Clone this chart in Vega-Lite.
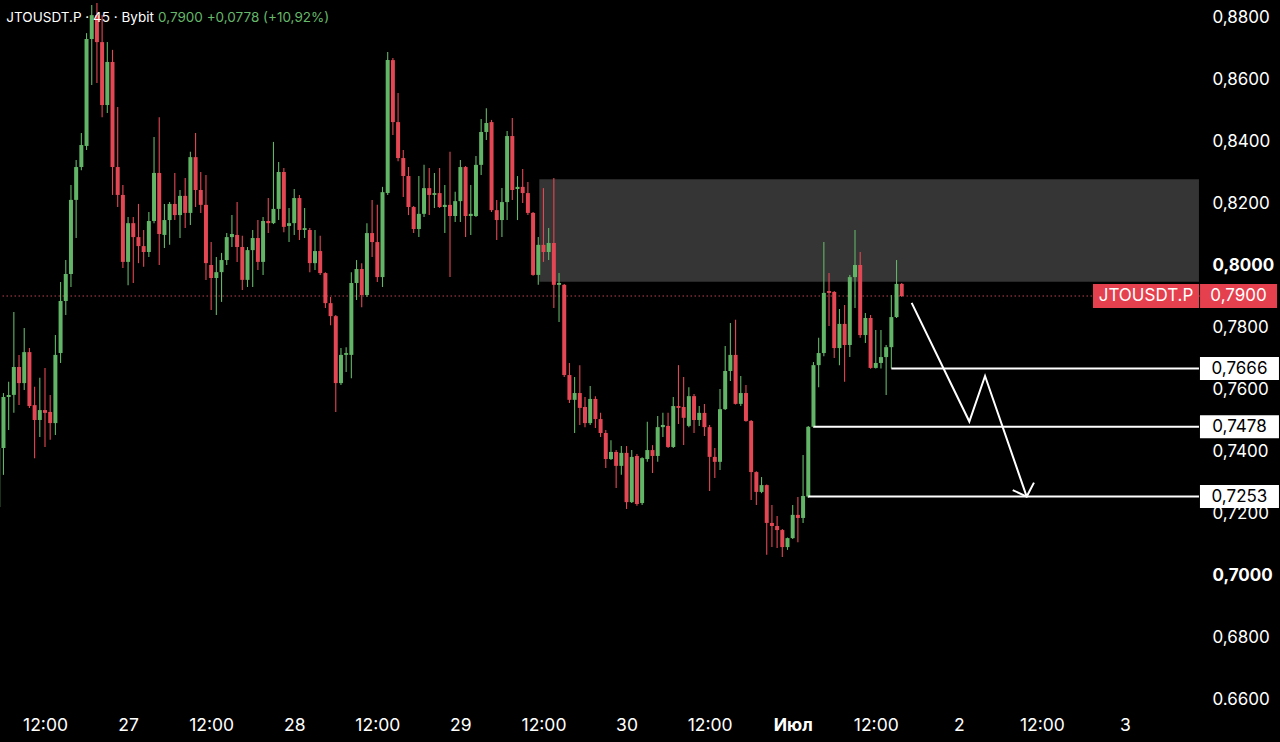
{
  "$schema": "https://vega.github.io/schema/vega-lite/v6.json",
  "width": 1200,
  "height": 710,
  "autosize": {"type": "none"},
  "padding": {"left": 0, "top": 0, "right": 80, "bottom": 32},
  "background": "#000000",
  "config": {"view": {"stroke": null}, "font": "Inter"},
  "datasets": {
    "candles": [
      {"t":"2024-06-26T05:15Z","o":0.7219,"h":0.7419,"l":0.7210,"c":0.7410},
      {"t":"2024-06-26T06:00Z","o":0.7410,"h":0.7587,"l":0.7323,"c":0.7574},
      {"t":"2024-06-26T06:45Z","o":0.7574,"h":0.7623,"l":0.7468,"c":0.7581},
      {"t":"2024-06-26T07:30Z","o":0.7581,"h":0.7848,"l":0.7523,"c":0.7671},
      {"t":"2024-06-26T08:15Z","o":0.7671,"h":0.7710,"l":0.7548,"c":0.7619},
      {"t":"2024-06-26T09:00Z","o":0.7619,"h":0.7797,"l":0.7597,"c":0.7719},
      {"t":"2024-06-26T09:45Z","o":0.7719,"h":0.7732,"l":0.7539,"c":0.7545},
      {"t":"2024-06-26T10:30Z","o":0.7548,"h":0.7607,"l":0.7377,"c":0.7500},
      {"t":"2024-06-26T11:15Z","o":0.7500,"h":0.7636,"l":0.7445,"c":0.7532},
      {"t":"2024-06-26T12:00Z","o":0.7532,"h":0.7668,"l":0.7413,"c":0.7523},
      {"t":"2024-06-26T12:45Z","o":0.7526,"h":0.7581,"l":0.7436,"c":0.7490},
      {"t":"2024-06-26T13:30Z","o":0.7490,"h":0.7774,"l":0.7452,"c":0.7710},
      {"t":"2024-06-26T14:15Z","o":0.7716,"h":0.7945,"l":0.7684,"c":0.7884},
      {"t":"2024-06-26T15:00Z","o":0.7884,"h":0.8016,"l":0.7839,"c":0.7971},
      {"t":"2024-06-26T15:45Z","o":0.7971,"h":0.8258,"l":0.7929,"c":0.8210},
      {"t":"2024-06-26T16:30Z","o":0.8210,"h":0.8339,"l":0.8087,"c":0.8316},
      {"t":"2024-06-26T17:15Z","o":0.8316,"h":0.8426,"l":0.8306,"c":0.8387},
      {"t":"2024-06-26T18:00Z","o":0.8384,"h":0.8748,"l":0.8371,"c":0.8729},
      {"t":"2024-06-26T18:45Z","o":0.8729,"h":0.8839,"l":0.8581,"c":0.8806},
      {"t":"2024-06-26T19:30Z","o":0.8806,"h":0.8845,"l":0.8587,"c":0.8719},
      {"t":"2024-06-26T20:15Z","o":0.8719,"h":0.8806,"l":0.8477,"c":0.8516},
      {"t":"2024-06-26T21:00Z","o":0.8516,"h":0.8719,"l":0.8490,"c":0.8655},
      {"t":"2024-06-26T21:45Z","o":0.8655,"h":0.8694,"l":0.8226,"c":0.8316},
      {"t":"2024-06-26T22:30Z","o":0.8316,"h":0.8510,"l":0.8187,"c":0.8226},
      {"t":"2024-06-26T23:15Z","o":0.8226,"h":0.8258,"l":0.7990,"c":0.8010},
      {"t":"2024-06-27T00:00Z","o":0.8010,"h":0.8155,"l":0.7935,"c":0.8135},
      {"t":"2024-06-27T00:45Z","o":0.8135,"h":0.8155,"l":0.7942,"c":0.8090},
      {"t":"2024-06-27T01:30Z","o":0.8090,"h":0.8197,"l":0.8006,"c":0.8061},
      {"t":"2024-06-27T02:15Z","o":0.8061,"h":0.8113,"l":0.7994,"c":0.8042},
      {"t":"2024-06-27T03:00Z","o":0.8042,"h":0.8171,"l":0.8026,"c":0.8142},
      {"t":"2024-06-27T03:45Z","o":0.8142,"h":0.8413,"l":0.8135,"c":0.8297},
      {"t":"2024-06-27T04:30Z","o":0.8297,"h":0.8477,"l":0.8000,"c":0.8100},
      {"t":"2024-06-27T05:15Z","o":0.8097,"h":0.8197,"l":0.8055,"c":0.8145},
      {"t":"2024-06-27T06:00Z","o":0.8145,"h":0.8203,"l":0.8065,"c":0.8197},
      {"t":"2024-06-27T06:45Z","o":0.8197,"h":0.8297,"l":0.8145,"c":0.8161},
      {"t":"2024-06-27T07:30Z","o":0.8161,"h":0.8242,"l":0.8087,"c":0.8223},
      {"t":"2024-06-27T08:15Z","o":0.8223,"h":0.8281,"l":0.8119,"c":0.8168},
      {"t":"2024-06-27T09:00Z","o":0.8168,"h":0.8365,"l":0.8129,"c":0.8348},
      {"t":"2024-06-27T09:45Z","o":0.8348,"h":0.8426,"l":0.8187,"c":0.8242},
      {"t":"2024-06-27T10:30Z","o":0.8242,"h":0.8300,"l":0.8168,"c":0.8194},
      {"t":"2024-06-27T11:15Z","o":0.8194,"h":0.8290,"l":0.7952,"c":0.8006},
      {"t":"2024-06-27T12:00Z","o":0.8000,"h":0.8074,"l":0.7855,"c":0.7958},
      {"t":"2024-06-27T12:45Z","o":0.7958,"h":0.8026,"l":0.7839,"c":0.7977},
      {"t":"2024-06-27T13:30Z","o":0.7977,"h":0.8039,"l":0.7881,"c":0.8016},
      {"t":"2024-06-27T14:15Z","o":0.8016,"h":0.8103,"l":0.8000,"c":0.8090},
      {"t":"2024-06-27T15:00Z","o":0.8090,"h":0.8161,"l":0.8058,"c":0.8100},
      {"t":"2024-06-27T15:45Z","o":0.8097,"h":0.8203,"l":0.8010,"c":0.8058},
      {"t":"2024-06-27T16:30Z","o":0.8058,"h":0.8094,"l":0.7919,"c":0.7952},
      {"t":"2024-06-27T17:15Z","o":0.7952,"h":0.8058,"l":0.7929,"c":0.8048},
      {"t":"2024-06-27T18:00Z","o":0.8048,"h":0.8113,"l":0.7929,"c":0.8087},
      {"t":"2024-06-27T18:45Z","o":0.8087,"h":0.8145,"l":0.7984,"c":0.8010},
      {"t":"2024-06-27T19:30Z","o":0.8010,"h":0.8155,"l":0.7968,"c":0.8142},
      {"t":"2024-06-27T20:15Z","o":0.8142,"h":0.8216,"l":0.8103,"c":0.8135},
      {"t":"2024-06-27T21:00Z","o":0.8135,"h":0.8397,"l":0.8132,"c":0.8181},
      {"t":"2024-06-27T21:45Z","o":0.8181,"h":0.8332,"l":0.8145,"c":0.8300},
      {"t":"2024-06-27T22:30Z","o":0.8300,"h":0.8313,"l":0.8106,"c":0.8123},
      {"t":"2024-06-27T23:15Z","o":0.8126,"h":0.8184,"l":0.8074,"c":0.8135},
      {"t":"2024-06-28T00:00Z","o":0.8135,"h":0.8245,"l":0.8097,"c":0.8216},
      {"t":"2024-06-28T00:45Z","o":0.8216,"h":0.8226,"l":0.8081,"c":0.8113},
      {"t":"2024-06-28T01:30Z","o":0.8113,"h":0.8184,"l":0.8087,"c":0.8119},
      {"t":"2024-06-28T02:15Z","o":0.8113,"h":0.8119,"l":0.7977,"c":0.8006},
      {"t":"2024-06-28T03:00Z","o":0.8006,"h":0.8113,"l":0.7984,"c":0.8045},
      {"t":"2024-06-28T03:45Z","o":0.8045,"h":0.8094,"l":0.7968,"c":0.7974},
      {"t":"2024-06-28T04:30Z","o":0.7974,"h":0.7977,"l":0.7861,"c":0.7877},
      {"t":"2024-06-28T05:15Z","o":0.7877,"h":0.7897,"l":0.7806,"c":0.7835},
      {"t":"2024-06-28T06:00Z","o":0.7835,"h":0.7839,"l":0.7526,"c":0.7619},
      {"t":"2024-06-28T06:45Z","o":0.7619,"h":0.7732,"l":0.7613,"c":0.7710},
      {"t":"2024-06-28T07:30Z","o":0.7710,"h":0.7735,"l":0.7655,"c":0.7716},
      {"t":"2024-06-28T08:15Z","o":0.7710,"h":0.7977,"l":0.7635,"c":0.7942},
      {"t":"2024-06-28T09:00Z","o":0.7942,"h":0.8016,"l":0.7887,"c":0.7987},
      {"t":"2024-06-28T09:45Z","o":0.7987,"h":0.8006,"l":0.7864,"c":0.7903},
      {"t":"2024-06-28T10:30Z","o":0.7903,"h":0.8135,"l":0.7897,"c":0.8103},
      {"t":"2024-06-28T11:15Z","o":0.8103,"h":0.8210,"l":0.8026,"c":0.8074},
      {"t":"2024-06-28T12:00Z","o":0.8074,"h":0.8194,"l":0.7945,"c":0.7961},
      {"t":"2024-06-28T12:45Z","o":0.7961,"h":0.8252,"l":0.7929,"c":0.8235},
      {"t":"2024-06-28T13:30Z","o":0.8232,"h":0.8687,"l":0.8226,"c":0.8661},
      {"t":"2024-06-28T14:15Z","o":0.8661,"h":0.8668,"l":0.8419,"c":0.8461},
      {"t":"2024-06-28T15:00Z","o":0.8461,"h":0.8555,"l":0.8335,"c":0.8345},
      {"t":"2024-06-28T15:45Z","o":0.8345,"h":0.8371,"l":0.8219,"c":0.8287},
      {"t":"2024-06-28T16:30Z","o":0.8287,"h":0.8316,"l":0.8161,"c":0.8187},
      {"t":"2024-06-28T17:15Z","o":0.8187,"h":0.8190,"l":0.8103,"c":0.8116},
      {"t":"2024-06-28T18:00Z","o":0.8116,"h":0.8287,"l":0.8090,"c":0.8165},
      {"t":"2024-06-28T18:45Z","o":0.8165,"h":0.8323,"l":0.8155,"c":0.8248},
      {"t":"2024-06-28T19:30Z","o":0.8248,"h":0.8313,"l":0.8161,"c":0.8226},
      {"t":"2024-06-28T20:15Z","o":0.8226,"h":0.8297,"l":0.8184,"c":0.8232},
      {"t":"2024-06-28T21:00Z","o":0.8232,"h":0.8313,"l":0.8184,"c":0.8187},
      {"t":"2024-06-28T21:45Z","o":0.8187,"h":0.8258,"l":0.8103,"c":0.8194},
      {"t":"2024-06-28T22:30Z","o":0.8194,"h":0.8365,"l":0.7961,"c":0.8158},
      {"t":"2024-06-28T23:15Z","o":0.8158,"h":0.8236,"l":0.8139,"c":0.8206},
      {"t":"2024-06-29T00:00Z","o":0.8206,"h":0.8339,"l":0.8139,"c":0.8316},
      {"t":"2024-06-29T00:45Z","o":0.8316,"h":0.8319,"l":0.8090,"c":0.8158},
      {"t":"2024-06-29T01:30Z","o":0.8158,"h":0.8258,"l":0.8097,"c":0.8165},
      {"t":"2024-06-29T02:15Z","o":0.8158,"h":0.8352,"l":0.8155,"c":0.8323},
      {"t":"2024-06-29T03:00Z","o":0.8323,"h":0.8471,"l":0.8290,"c":0.8429},
      {"t":"2024-06-29T03:45Z","o":0.8429,"h":0.8506,"l":0.8403,"c":0.8458},
      {"t":"2024-06-29T04:30Z","o":0.8461,"h":0.8468,"l":0.8171,"c":0.8177},
      {"t":"2024-06-29T05:15Z","o":0.8177,"h":0.8210,"l":0.8081,"c":0.8145},
      {"t":"2024-06-29T06:00Z","o":0.8145,"h":0.8248,"l":0.8090,"c":0.8203},
      {"t":"2024-06-29T06:45Z","o":0.8203,"h":0.8432,"l":0.8145,"c":0.8416},
      {"t":"2024-06-29T07:30Z","o":0.8416,"h":0.8474,"l":0.8210,"c":0.8242},
      {"t":"2024-06-29T08:15Z","o":0.8245,"h":0.8287,"l":0.8145,"c":0.8252},
      {"t":"2024-06-29T09:00Z","o":0.8252,"h":0.8310,"l":0.8200,"c":0.8232},
      {"t":"2024-06-29T09:45Z","o":0.8232,"h":0.8268,"l":0.8161,"c":0.8168},
      {"t":"2024-06-29T10:30Z","o":0.8168,"h":0.8171,"l":0.7965,"c":0.7968},
      {"t":"2024-06-29T11:15Z","o":0.7968,"h":0.8090,"l":0.7936,"c":0.8065},
      {"t":"2024-06-29T12:00Z","o":0.8065,"h":0.8248,"l":0.8010,"c":0.8042},
      {"t":"2024-06-29T12:45Z","o":0.8042,"h":0.8119,"l":0.8016,"c":0.8071},
      {"t":"2024-06-29T13:30Z","o":0.8071,"h":0.8281,"l":0.7861,"c":0.7936},
      {"t":"2024-06-29T14:15Z","o":0.7936,"h":0.7974,"l":0.7816,"c":0.7942},
      {"t":"2024-06-29T15:00Z","o":0.7936,"h":0.7939,"l":0.7639,"c":0.7645},
      {"t":"2024-06-29T15:45Z","o":0.7645,"h":0.7684,"l":0.7555,"c":0.7565},
      {"t":"2024-06-29T16:30Z","o":0.7565,"h":0.7639,"l":0.7458,"c":0.7587},
      {"t":"2024-06-29T17:15Z","o":0.7587,"h":0.7677,"l":0.7484,"c":0.7539},
      {"t":"2024-06-29T18:00Z","o":0.7542,"h":0.7574,"l":0.7477,"c":0.7490},
      {"t":"2024-06-29T18:45Z","o":0.7490,"h":0.7610,"l":0.7484,"c":0.7568},
      {"t":"2024-06-29T19:30Z","o":0.7568,"h":0.7577,"l":0.7474,"c":0.7503},
      {"t":"2024-06-29T20:15Z","o":0.7503,"h":0.7523,"l":0.7445,"c":0.7458},
      {"t":"2024-06-29T21:00Z","o":0.7458,"h":0.7468,"l":0.7345,"c":0.7374},
      {"t":"2024-06-29T21:45Z","o":0.7374,"h":0.7435,"l":0.7371,"c":0.7397},
      {"t":"2024-06-29T22:30Z","o":0.7397,"h":0.7403,"l":0.7281,"c":0.7352},
      {"t":"2024-06-29T23:15Z","o":0.7352,"h":0.7416,"l":0.7323,"c":0.7394},
      {"t":"2024-06-30T00:00Z","o":0.7394,"h":0.7416,"l":0.7213,"c":0.7235},
      {"t":"2024-06-30T00:45Z","o":0.7235,"h":0.7403,"l":0.7232,"c":0.7381},
      {"t":"2024-06-30T01:30Z","o":0.7384,"h":0.7390,"l":0.7223,"c":0.7229},
      {"t":"2024-06-30T02:15Z","o":0.7232,"h":0.7380,"l":0.7226,"c":0.7377},
      {"t":"2024-06-30T03:00Z","o":0.7374,"h":0.7494,"l":0.7365,"c":0.7403},
      {"t":"2024-06-30T03:45Z","o":0.7403,"h":0.7419,"l":0.7329,"c":0.7384},
      {"t":"2024-06-30T04:30Z","o":0.7384,"h":0.7513,"l":0.7365,"c":0.7477},
      {"t":"2024-06-30T05:15Z","o":0.7477,"h":0.7523,"l":0.7445,"c":0.7484},
      {"t":"2024-06-30T06:00Z","o":0.7481,"h":0.7523,"l":0.7410,"c":0.7413},
      {"t":"2024-06-30T06:45Z","o":0.7413,"h":0.7574,"l":0.7410,"c":0.7545},
      {"t":"2024-06-30T07:30Z","o":0.7545,"h":0.7677,"l":0.7487,"c":0.7539},
      {"t":"2024-06-30T08:15Z","o":0.7542,"h":0.7639,"l":0.7419,"c":0.7507},
      {"t":"2024-06-30T09:00Z","o":0.7481,"h":0.7606,"l":0.7477,"c":0.7577},
      {"t":"2024-06-30T09:45Z","o":0.7577,"h":0.7584,"l":0.7458,"c":0.7500},
      {"t":"2024-06-30T10:30Z","o":0.7500,"h":0.7545,"l":0.7481,"c":0.7523},
      {"t":"2024-06-30T11:15Z","o":0.7523,"h":0.7552,"l":0.7448,"c":0.7477},
      {"t":"2024-06-30T12:00Z","o":0.7477,"h":0.7484,"l":0.7271,"c":0.7381},
      {"t":"2024-06-30T12:45Z","o":0.7381,"h":0.7410,"l":0.7313,"c":0.7365},
      {"t":"2024-06-30T13:30Z","o":0.7365,"h":0.7600,"l":0.7339,"c":0.7535},
      {"t":"2024-06-30T14:15Z","o":0.7535,"h":0.7739,"l":0.7532,"c":0.7658},
      {"t":"2024-06-30T15:00Z","o":0.7658,"h":0.7813,"l":0.7626,"c":0.7710},
      {"t":"2024-06-30T15:45Z","o":0.7710,"h":0.7823,"l":0.7550,"c":0.7552},
      {"t":"2024-06-30T16:30Z","o":0.7552,"h":0.7642,"l":0.7545,"c":0.7587},
      {"t":"2024-06-30T17:15Z","o":0.7587,"h":0.7613,"l":0.7494,"c":0.7497},
      {"t":"2024-06-30T18:00Z","o":0.7497,"h":0.7500,"l":0.7242,"c":0.7332},
      {"t":"2024-06-30T18:45Z","o":0.7332,"h":0.7335,"l":0.7226,"c":0.7268},
      {"t":"2024-06-30T19:30Z","o":0.7268,"h":0.7316,"l":0.7264,"c":0.7290},
      {"t":"2024-06-30T20:15Z","o":0.7290,"h":0.7292,"l":0.7065,"c":0.7168},
      {"t":"2024-06-30T21:00Z","o":0.7168,"h":0.7226,"l":0.7090,"c":0.7158},
      {"t":"2024-06-30T21:45Z","o":0.7158,"h":0.7190,"l":0.7087,"c":0.7145},
      {"t":"2024-06-30T22:30Z","o":0.7145,"h":0.7148,"l":0.7058,"c":0.7090},
      {"t":"2024-06-30T23:15Z","o":0.7090,"h":0.7121,"l":0.7081,"c":0.7119},
      {"t":"2024-07-01T00:00Z","o":0.7119,"h":0.7226,"l":0.7116,"c":0.7194},
      {"t":"2024-07-01T00:45Z","o":0.7194,"h":0.7252,"l":0.7106,"c":0.7184},
      {"t":"2024-07-01T01:30Z","o":0.7184,"h":0.7387,"l":0.7168,"c":0.7255},
      {"t":"2024-07-01T02:15Z","o":0.7253,"h":0.7481,"l":0.7248,"c":0.7478},
      {"t":"2024-07-01T03:00Z","o":0.7478,"h":0.7687,"l":0.7475,"c":0.7677},
      {"t":"2024-07-01T03:45Z","o":0.7677,"h":0.7765,"l":0.7606,"c":0.7716},
      {"t":"2024-07-01T04:30Z","o":0.7716,"h":0.8074,"l":0.7706,"c":0.7910},
      {"t":"2024-07-01T05:15Z","o":0.7916,"h":0.7974,"l":0.7803,"c":0.7910},
      {"t":"2024-07-01T06:00Z","o":0.7913,"h":0.7916,"l":0.7700,"c":0.7732},
      {"t":"2024-07-01T06:45Z","o":0.7732,"h":0.7858,"l":0.7677,"c":0.7810},
      {"t":"2024-07-01T07:30Z","o":0.7810,"h":0.7871,"l":0.7623,"c":0.7742},
      {"t":"2024-07-01T08:15Z","o":0.7742,"h":0.7968,"l":0.7703,"c":0.7961},
      {"t":"2024-07-01T09:00Z","o":0.7961,"h":0.8113,"l":0.7861,"c":0.8000},
      {"t":"2024-07-01T09:45Z","o":0.8000,"h":0.8042,"l":0.7765,"c":0.7774},
      {"t":"2024-07-01T10:30Z","o":0.7774,"h":0.7845,"l":0.7748,"c":0.7829},
      {"t":"2024-07-01T11:15Z","o":0.7829,"h":0.7839,"l":0.7665,"c":0.7668},
      {"t":"2024-07-01T12:00Z","o":0.7668,"h":0.7790,"l":0.7666,"c":0.7684},
      {"t":"2024-07-01T12:45Z","o":0.7684,"h":0.7790,"l":0.7666,"c":0.7703},
      {"t":"2024-07-01T13:30Z","o":0.7703,"h":0.7742,"l":0.7581,"c":0.7735},
      {"t":"2024-07-01T14:15Z","o":0.7735,"h":0.7903,"l":0.7666,"c":0.7832},
      {"t":"2024-07-01T15:00Z","o":0.7832,"h":0.8016,"l":0.7829,"c":0.7939},
      {"t":"2024-07-01T15:45Z","o":0.7939,"h":0.7942,"l":0.7897,"c":0.7900}
    ],
    "zone": [{"t1":"2024-06-29T11:24Z","t2":"2024-07-03T10:41Z","top":0.8277,"bottom":0.7946}],
    "last": [{"price":0.79,"symbol":"JTOUSDT.P","label":"0,7900"}],
    "levels": [
      {"level":0.7666,"start":"2024-07-01T14:15Z","label":"0,7666"},
      {"level":0.7478,"start":"2024-07-01T03:00Z","label":"0,7478"},
      {"level":0.7253,"start":"2024-07-01T02:15Z","label":"0,7253"}
    ],
    "arrow": [
      {"seg":"path","i":1,"t":"2024-07-01T17:11Z","p":0.7878},
      {"seg":"path","i":2,"t":"2024-07-02T01:31Z","p":0.7495},
      {"seg":"path","i":3,"t":"2024-07-02T03:47Z","p":0.7642},
      {"seg":"path","i":4,"t":"2024-07-02T09:48Z","p":0.7253},
      {"seg":"head","i":1,"t":"2024-07-02T07:47Z","p":0.7274},
      {"seg":"head","i":2,"t":"2024-07-02T09:48Z","p":0.7253},
      {"seg":"head","i":3,"t":"2024-07-02T10:51Z","p":0.7298}
    ],
    "header": [{"name":"JTOUSDT.P · 45 · Bybit","quote":"0,7900  +0,0778 (+10,92%)"}]
  },
  "layer": [
    {
      "data": {"name": "zone"},
      "mark": {"type": "rect", "color": "#353535"},
      "encoding": {
        "x": {
          "field": "t1", "type": "temporal",
          "scale": {"type": "utc", "nice": false, "padding": 0, "domain": [{"year":2024,"month":6,"date":26,"hours":5,"minutes":30,"utc":true},{"year":2024,"month":7,"date":3,"hours":10,"minutes":50,"utc":true}]},
          "axis": {
            "orient": "bottom",
            "values": [
              {"year":2024,"month":6,"date":26,"hours":12,"utc":true},
              {"year":2024,"month":6,"date":27,"hours":0,"utc":true},
              {"year":2024,"month":6,"date":27,"hours":12,"utc":true},
              {"year":2024,"month":6,"date":28,"hours":0,"utc":true},
              {"year":2024,"month":6,"date":28,"hours":12,"utc":true},
              {"year":2024,"month":6,"date":29,"hours":0,"utc":true},
              {"year":2024,"month":6,"date":29,"hours":12,"utc":true},
              {"year":2024,"month":6,"date":30,"hours":0,"utc":true},
              {"year":2024,"month":6,"date":30,"hours":12,"utc":true},
              {"year":2024,"month":7,"date":1,"hours":0,"utc":true},
              {"year":2024,"month":7,"date":1,"hours":12,"utc":true},
              {"year":2024,"month":7,"date":2,"hours":0,"utc":true},
              {"year":2024,"month":7,"date":2,"hours":12,"utc":true},
              {"year":2024,"month":7,"date":3,"hours":0,"utc":true}
            ],
            "labelExpr": "utchours(datum.value) == 12 ? '12:00' : (utcdate(datum.value) == 1 ? 'Июл' : '' + utcdate(datum.value))",
            "labelFontWeight": {"condition": {"test": "utchours(datum.value) == 0 && utcdate(datum.value) == 1", "value": "bold"}, "value": "normal"},
            "labelColor": "#ffffff", "labelFont": "Inter", "labelFontSize": 17.5, "labelPadding": 6,
            "ticks": false, "domain": false, "grid": false, "title": null, "labelFlush": false, "labelOverlap": false
          }
        },
        "x2": {"field": "t2"},
        "y": {
          "field": "top", "type": "quantitative",
          "scale": {"domain": [0.656452, 0.885484], "nice": false, "zero": false, "padding": 0},
          "axis": {
            "orient": "right",
            "values": [0.66, 0.68, 0.70, 0.72, 0.74, 0.76, 0.78, 0.80, 0.82, 0.84, 0.86, 0.88],
            "labelExpr": "abs(datum.value - 0.66) < 0.0001 ? '0.6600' : replace(format(datum.value, '.4f'), '.', ',')",
            "labelFontWeight": {"condition": {"test": "abs(datum.value - 0.8) < 0.0001 || abs(datum.value - 0.7) < 0.0001", "value": "bold"}, "value": "normal"},
            "labelColor": "#ffffff", "labelFont": "Inter", "labelFontSize": 17, "labelPadding": 12,
            "ticks": false, "domain": false, "grid": false, "title": null, "labelFlush": false, "labelOverlap": false
          }
        },
        "y2": {"field": "bottom"}
      }
    },
    {
      "data": {"name": "last"},
      "mark": {"type": "rule", "color": "#d9505c", "strokeWidth": 1.2, "strokeDash": [1.5, 2.5], "opacity": 0.85},
      "encoding": {
        "y": {"field": "price", "type": "quantitative"}
      }
    },
    {
      "data": {"name": "candles"},
      "mark": {"type": "rule", "strokeWidth": 1.1, "clip": true},
      "encoding": {
        "x": {"field": "t", "type": "temporal"},
        "y": {"field": "l", "type": "quantitative"},
        "y2": {"field": "h"},
        "color": {"condition": {"test": "datum.c >= datum.o", "value": "#62b566"}, "value": "#e34753"}
      }
    },
    {
      "data": {"name": "candles"},
      "mark": {"type": "bar", "width": 4, "clip": true},
      "encoding": {
        "x": {"field": "t", "type": "temporal"},
        "y": {"field": "o", "type": "quantitative"},
        "y2": {"field": "c"},
        "color": {"condition": {"test": "datum.c >= datum.o", "value": "#62b566"}, "value": "#e34753"}
      }
    },
    {
      "data": {"name": "levels"},
      "mark": {"type": "rule", "color": "#ffffff", "strokeWidth": 2},
      "encoding": {
        "x": {"field": "start", "type": "temporal"},
        "x2": {"datum": {"year":2024,"month":7,"date":3,"hours":10,"minutes":41,"utc":true}},
        "y": {"field": "level", "type": "quantitative"}
      }
    },
    {
      "data": {"name": "arrow"},
      "mark": {"type": "line", "color": "#ffffff", "strokeWidth": 2, "strokeJoin": "miter"},
      "encoding": {
        "x": {"field": "t", "type": "temporal"},
        "y": {"field": "p", "type": "quantitative"},
        "detail": {"field": "seg"},
        "order": {"field": "i"}
      }
    },
    {
      "data": {"name": "levels"},
      "mark": {"type": "point", "shape": "M-1,-0.291H1V0.291H-1Z", "size": 6241, "filled": true, "color": "#ffffff", "opacity": 1, "strokeWidth": 0},
      "encoding": {
        "x": {"datum": {"year":2024,"month":7,"date":3,"hours":16,"minutes":32,"utc":true}, "type": "temporal"},
        "y": {"field": "level", "type": "quantitative"}
      }
    },
    {
      "data": {"name": "levels"},
      "mark": {"type": "text", "color": "#000000", "font": "Inter", "fontSize": 17, "align": "center", "baseline": "middle"},
      "encoding": {
        "x": {"datum": {"year":2024,"month":7,"date":3,"hours":16,"minutes":32,"utc":true}, "type": "temporal"},
        "y": {"field": "level", "type": "quantitative"},
        "text": {"field": "label"}
      }
    },
    {
      "data": {"name": "last"},
      "mark": {"type": "point", "shape": "M-1,-0.2264H1V0.2264H-1Z", "size": 11236, "filled": true, "color": "#e5404e", "opacity": 1, "strokeWidth": 0},
      "encoding": {
        "x": {"datum": {"year":2024,"month":7,"date":3,"hours":3,"minutes":2,"utc":true}, "type": "temporal"},
        "y": {"field": "price", "type": "quantitative"}
      }
    },
    {
      "data": {"name": "last"},
      "mark": {"type": "point", "shape": "M-1,-0.3117H1V0.3117H-1Z", "size": 5929, "filled": true, "color": "#e5404e", "opacity": 1, "strokeWidth": 0},
      "encoding": {
        "x": {"datum": {"year":2024,"month":7,"date":3,"hours":16,"minutes":24,"utc":true}, "type": "temporal"},
        "y": {"field": "price", "type": "quantitative"}
      }
    },
    {
      "data": {"name": "last"},
      "mark": {"type": "text", "color": "#ffffff", "font": "Inter", "fontSize": 17, "align": "center", "baseline": "middle"},
      "encoding": {
        "x": {"datum": {"year":2024,"month":7,"date":3,"hours":3,"minutes":2,"utc":true}, "type": "temporal"},
        "y": {"field": "price", "type": "quantitative"},
        "text": {"field": "symbol"}
      }
    },
    {
      "data": {"name": "last"},
      "mark": {"type": "text", "color": "#ffffff", "font": "Inter", "fontSize": 17, "align": "center", "baseline": "middle"},
      "encoding": {
        "x": {"datum": {"year":2024,"month":7,"date":3,"hours":16,"minutes":24,"utc":true}, "type": "temporal"},
        "y": {"field": "price", "type": "quantitative"},
        "text": {"field": "label"}
      }
    },
    {
      "data": {"name": "header"},
      "mark": {"type": "text", "color": "#ffffff", "font": "Inter", "fontSize": 13.5, "align": "left", "baseline": "middle"},
      "encoding": {
        "x": {"datum": {"year":2024,"month":6,"date":26,"hours":6,"minutes":25,"utc":true}, "type": "temporal"},
        "y": {"datum": 0.8797, "type": "quantitative"},
        "text": {"field": "name"}
      }
    },
    {
      "data": {"name": "header"},
      "mark": {"type": "text", "color": "#66b86a", "font": "Inter", "fontSize": 13.5, "align": "left", "baseline": "middle"},
      "encoding": {
        "x": {"datum": {"year":2024,"month":6,"date":27,"hours":4,"minutes":20,"utc":true}, "type": "temporal"},
        "y": {"datum": 0.8797, "type": "quantitative"},
        "text": {"field": "quote"}
      }
    }
  ]
}
